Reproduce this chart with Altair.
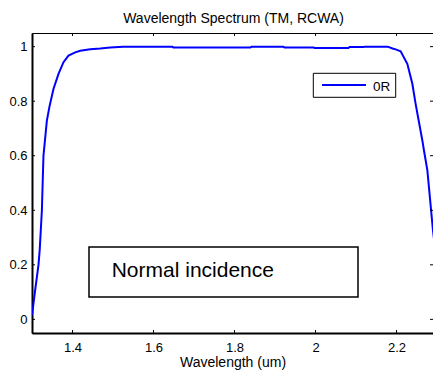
import altair as alt
import pandas as pd

# ---- data ----
wavelength = [1.300, 1.3078, 1.316, 1.319, 1.3244, 1.3283, 1.3367, 1.3431, 1.3530,
              1.3654, 1.3778, 1.3901, 1.4067, 1.4190, 1.4438, 1.4685, 1.4932, 1.5253,
              1.6465, 1.6489, 1.8392, 1.8417, 1.9208, 1.9233, 1.9950, 1.9975, 2.0815,
              2.0840, 2.1186, 2.1211, 2.1780, 2.1902, 2.1977, 2.2101, 2.2266, 2.2390,
              2.2471, 2.2545, 2.2637, 2.2676, 2.2761, 2.2899, 2.300]
reflectance = [0.016, 0.107, 0.200, 0.254, 0.400, 0.600, 0.729, 0.780, 0.845,
               0.900, 0.943, 0.967, 0.979, 0.985, 0.990, 0.993, 0.997, 1.000,
               1.000, 0.997, 0.997, 1.000, 1.000, 0.997, 0.997, 0.995, 0.995,
               0.999, 0.999, 1.000, 1.000, 0.993, 0.990, 0.983, 0.937, 0.864,
               0.790, 0.730, 0.656, 0.620, 0.546, 0.327, 0.200]
x_ticks = [1.4, 1.6, 1.8, 2.0, 2.2]
y_ticks = [0, 0.2, 0.4, 0.6, 0.8, 1.0]
series_name = "0R"
annotation = "Normal incidence"
title_text = "Wavelength Spectrum (TM, RCWA)"
x_title = "Wavelength (um)"

FONT = "Liberation Sans"
X_DOMAIN = [1.3, 2.29]
Y_DOMAIN = [-0.05, 1.05]

df = pd.DataFrame({"wl": wavelength, "R": reflectance})
xt = pd.DataFrame({"wl": x_ticks})
yt = pd.DataFrame({"R": y_ticks})
one = pd.DataFrame({"k": [0]})

xs = alt.Scale(domain=X_DOMAIN, nice=False, zero=False)
ys = alt.Scale(domain=Y_DOMAIN, nice=False, zero=False)

x_axis = alt.Axis(values=x_ticks, format="~g", title=x_title,
                  ticks=False, tickSize=0, grid=False, labelPadding=8,
                  titlePadding=1, domainWidth=2, domainColor="black",
                  labelColor="black", titleColor="black",
                  labelFont=FONT, labelFontSize=13, titleFont=FONT,
                  titleFontSize=14, titleFontWeight="normal")
y_axis = alt.Axis(values=y_ticks, format="~g", title=None,
                  ticks=False, tickSize=0, grid=False, labelPadding=5,
                  domainWidth=2, domainColor="black", labelColor="black",
                  labelFont=FONT, labelFontSize=13)

line = alt.Chart(df).mark_line(color="#0000FF", strokeWidth=2, clip=True).encode(
    x=alt.X("wl:Q", scale=xs, axis=x_axis),
    y=alt.Y("R:Q", scale=ys, axis=y_axis),
)

bottom_ticks = alt.Chart(xt).mark_rule(color="black", strokeWidth=1, y2Offset=-3).encode(
    x=alt.X("wl:Q", scale=xs, axis=x_axis),
    y=alt.datum(Y_DOMAIN[0]),
    y2=alt.datum(Y_DOMAIN[0]),
)
top_ticks = alt.Chart(xt).mark_rule(color="black", strokeWidth=1, y2Offset=3).encode(
    x=alt.X("wl:Q", scale=xs, axis=x_axis),
    y=alt.datum(Y_DOMAIN[1]),
    y2=alt.datum(Y_DOMAIN[1]),
)
left_ticks = alt.Chart(yt).mark_rule(color="black", strokeWidth=1, x2Offset=3).encode(
    y=alt.Y("R:Q", scale=ys, axis=y_axis),
    x=alt.datum(X_DOMAIN[0]),
    x2=alt.datum(X_DOMAIN[0]),
)
right_ticks = alt.Chart(yt).mark_rule(color="black", strokeWidth=1, x2Offset=-3).encode(
    y=alt.Y("R:Q", scale=ys, axis=y_axis),
    x=alt.datum(X_DOMAIN[1]),
    x2=alt.datum(X_DOMAIN[1]),
)

# chart title (as text above the plot area)
title = alt.Chart(one).mark_text(
    text=title_text, font=FONT, fontSize=14, align="center", baseline="alphabetic",
    color="black").encode(x=alt.value(201.5), y=alt.value(-10.5))

# annotation box
box = alt.Chart(one).mark_rect(fill="white", stroke="black", strokeWidth=1.5).encode(
    x=alt.value(57), x2=alt.value(326), y=alt.value(214), y2=alt.value(264))
box_text = alt.Chart(one).mark_text(
    text=annotation, font=FONT, fontSize=21, align="left", baseline="alphabetic",
    color="black").encode(x=alt.value(79.7), y=alt.value(244.3))

# legend
leg_box = alt.Chart(one).mark_rect(fill="white", stroke="black", strokeWidth=1).encode(
    x=alt.value(281.3), x2=alt.value(363.7), y=alt.value(40.3), y2=alt.value(64.3))
leg_line = alt.Chart(one).mark_rule(color="#0000FF", strokeWidth=2).encode(
    x=alt.value(290), x2=alt.value(334), y=alt.value(52))
leg_text = alt.Chart(one).mark_text(
    text=series_name, font=FONT, fontSize=13.5, align="left", baseline="alphabetic",
    color="black").encode(x=alt.value(341), y=alt.value(57.5))

chart = alt.layer(
    line, bottom_ticks, top_ticks, left_ticks, right_ticks,
    box, box_text, leg_box, leg_line, leg_text, title,
).properties(
    width=401,
    height=300,
    padding={"left": 32, "top": 33, "right": 0, "bottom": 42},
    autosize=alt.AutoSizeParams(type="none"),
    background="white",
).configure_view(stroke="black", strokeWidth=1)

chart.save("out.html", embed_options={"renderer": "svg", "actions": False})
